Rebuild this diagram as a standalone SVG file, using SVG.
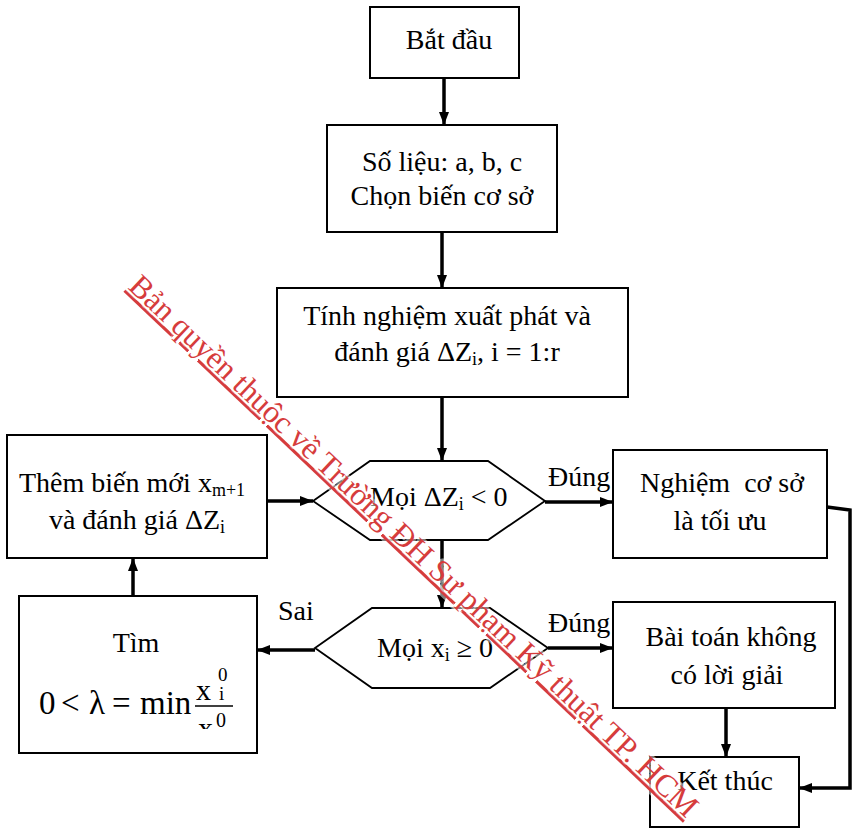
<svg xmlns="http://www.w3.org/2000/svg" width="852" height="828" viewBox="0 0 852 828" font-family="'Liberation Serif', 'Times New Roman', serif">
<style>
  text { font-family: "Liberation Serif", "Times New Roman", serif; fill: #000; }
  .t { font-size: 28px; }
  .box { fill: #fff; stroke: #000; stroke-width: 2; }
  .hex { fill: #fff; stroke: #000; stroke-width: 1.8; }
  .conn { fill: none; stroke: #000; stroke-width: 3.5; }
  .wm { font-size: 31.5px; fill: #d63c3c; text-decoration: underline; stroke: #fff; stroke-width: 5; stroke-opacity: 0.5; paint-order: stroke; }
</style>
<defs>
  <marker id="ah" markerUnits="userSpaceOnUse" markerWidth="14" markerHeight="12" refX="13" refY="5" orient="auto">
    <path d="M0,0 L13,5 L0,10 z" fill="#000"/>
  </marker>
  <clipPath id="eqclip"><rect x="150" y="660" width="100" height="69"/></clipPath>
</defs>
<rect width="852" height="828" fill="#fff"/>

<g id="start">
  <rect class="box" x="370" y="7" width="149" height="71"/>
  <text class="t" x="449" y="49" text-anchor="middle">Bắt đầu</text>
</g>

<g id="data">
  <rect class="box" x="327" y="125" width="230" height="107"/>
  <text class="t" x="442" y="171" text-anchor="middle">Số liệu: a, b, c</text>
  <text class="t" x="442" y="205" text-anchor="middle">Chọn biến cơ sở</text>
</g>

<g id="init">
  <rect class="box" x="277" y="288" width="351" height="109"/>
  <text class="t" x="447" y="325" text-anchor="middle">Tính nghiệm xuất phát và</text>
  <text class="t" x="447" y="361" text-anchor="middle">đánh giá ΔZ<tspan font-size="18" dy="4">i</tspan><tspan dy="-4">, i = 1:r</tspan></text>
</g>

<g id="dec1">
  <polygon class="hex" points="370,461 488,461 545,501 488,540 370,540 313,501"/>
  <text class="t" x="370" y="506">Mọi ΔZ<tspan font-size="18" dy="4">i</tspan><tspan dy="-4"> &lt; 0</tspan></text>
</g>

<g id="dec2">
  <polygon class="hex" points="372,608 490,608 548,648 490,688 372,688 315,648"/>
  <text class="t" x="377" y="657">Mọi x<tspan font-size="18" dy="4">i</tspan><tspan dy="-4"> ≥ 0</tspan></text>
</g>

<g id="optimal">
  <rect class="box" x="613" y="450" width="214" height="108"/>
  <text class="t" x="722" y="492" text-anchor="middle" xml:space="preserve">Nghiệm  cơ sở</text>
  <text class="t" x="720" y="530" text-anchor="middle">là tối ưu</text>
</g>

<g id="nosolution">
  <rect class="box" x="613" y="602" width="222" height="106"/>
  <text class="t" x="731" y="646" text-anchor="middle">Bài toán không</text>
  <text class="t" x="727" y="684" text-anchor="middle">có lời giải</text>
</g>

<g id="end">
  <rect class="box" x="650" y="757" width="149" height="70"/>
  <text class="t" x="725" y="790" text-anchor="middle">Kết thúc</text>
</g>

<g id="addvar">
  <rect class="box" x="7" y="435" width="260" height="123"/>
  <text class="t" x="19" y="492">Thêm biến mới x<tspan font-size="18" dy="4">m+1</tspan></text>
  <text class="t" x="137" y="529" text-anchor="middle">và đánh giá ΔZ<tspan font-size="18" dy="4">i</tspan></text>
</g>

<g id="findlambda">
  <rect class="box" x="19" y="596" width="238" height="157"/>
  <text class="t" x="136" y="652" text-anchor="middle">Tìm</text>
  <text font-size="33" y="714"><tspan x="39">0</tspan><tspan x="61">&lt;</tspan><tspan x="89">λ</tspan><tspan x="112">=</tspan><tspan x="140">min</tspan></text>
  <text font-size="30" x="196" y="700">x</text>
  <text font-size="19" x="218" y="681">0</text>
  <text font-size="19" x="219" y="700">i</text>
  <line x1="195" y1="706" x2="233" y2="706" stroke="#000" stroke-width="1.5"/>
  <g clip-path="url(#eqclip)">
    <text font-size="30" x="198" y="738">x</text>
    <text font-size="20" x="216" y="727">0</text>
  </g>
</g>

<g id="connectors">
  <path class="conn" d="M444,78 V125" marker-end="url(#ah)"/>
  <path class="conn" d="M442,232 V288" marker-end="url(#ah)"/>
  <path class="conn" d="M442,397 V461" marker-end="url(#ah)"/>
  <path class="conn" d="M267,501 H313" marker-end="url(#ah)"/>
  <path class="conn" d="M545,502 H613" marker-end="url(#ah)"/>
  <path class="conn" d="M442,540 V608" marker-end="url(#ah)"/>
  <path class="conn" d="M548,648 H613" marker-end="url(#ah)"/>
  <path class="conn" d="M315,650 H257" marker-end="url(#ah)"/>
  <path class="conn" d="M133,596 V558" marker-end="url(#ah)"/>
  <path class="conn" d="M726,708 V757" marker-end="url(#ah)"/>
  <path class="conn" d="M827,507 L850,510 V788 H799" marker-end="url(#ah)"/>
  <text class="t" x="548" y="486">Đúng</text>
  <text class="t" x="548" y="632">Đúng</text>
  <text class="t" x="278" y="620">Sai</text>
</g>

<text class="wm" transform="translate(127,288) rotate(43.5)" x="0" y="0">Bản quyền thuộc về Trường ĐH Sư phạm Kỹ thuật TP. HCM</text>
</svg>
